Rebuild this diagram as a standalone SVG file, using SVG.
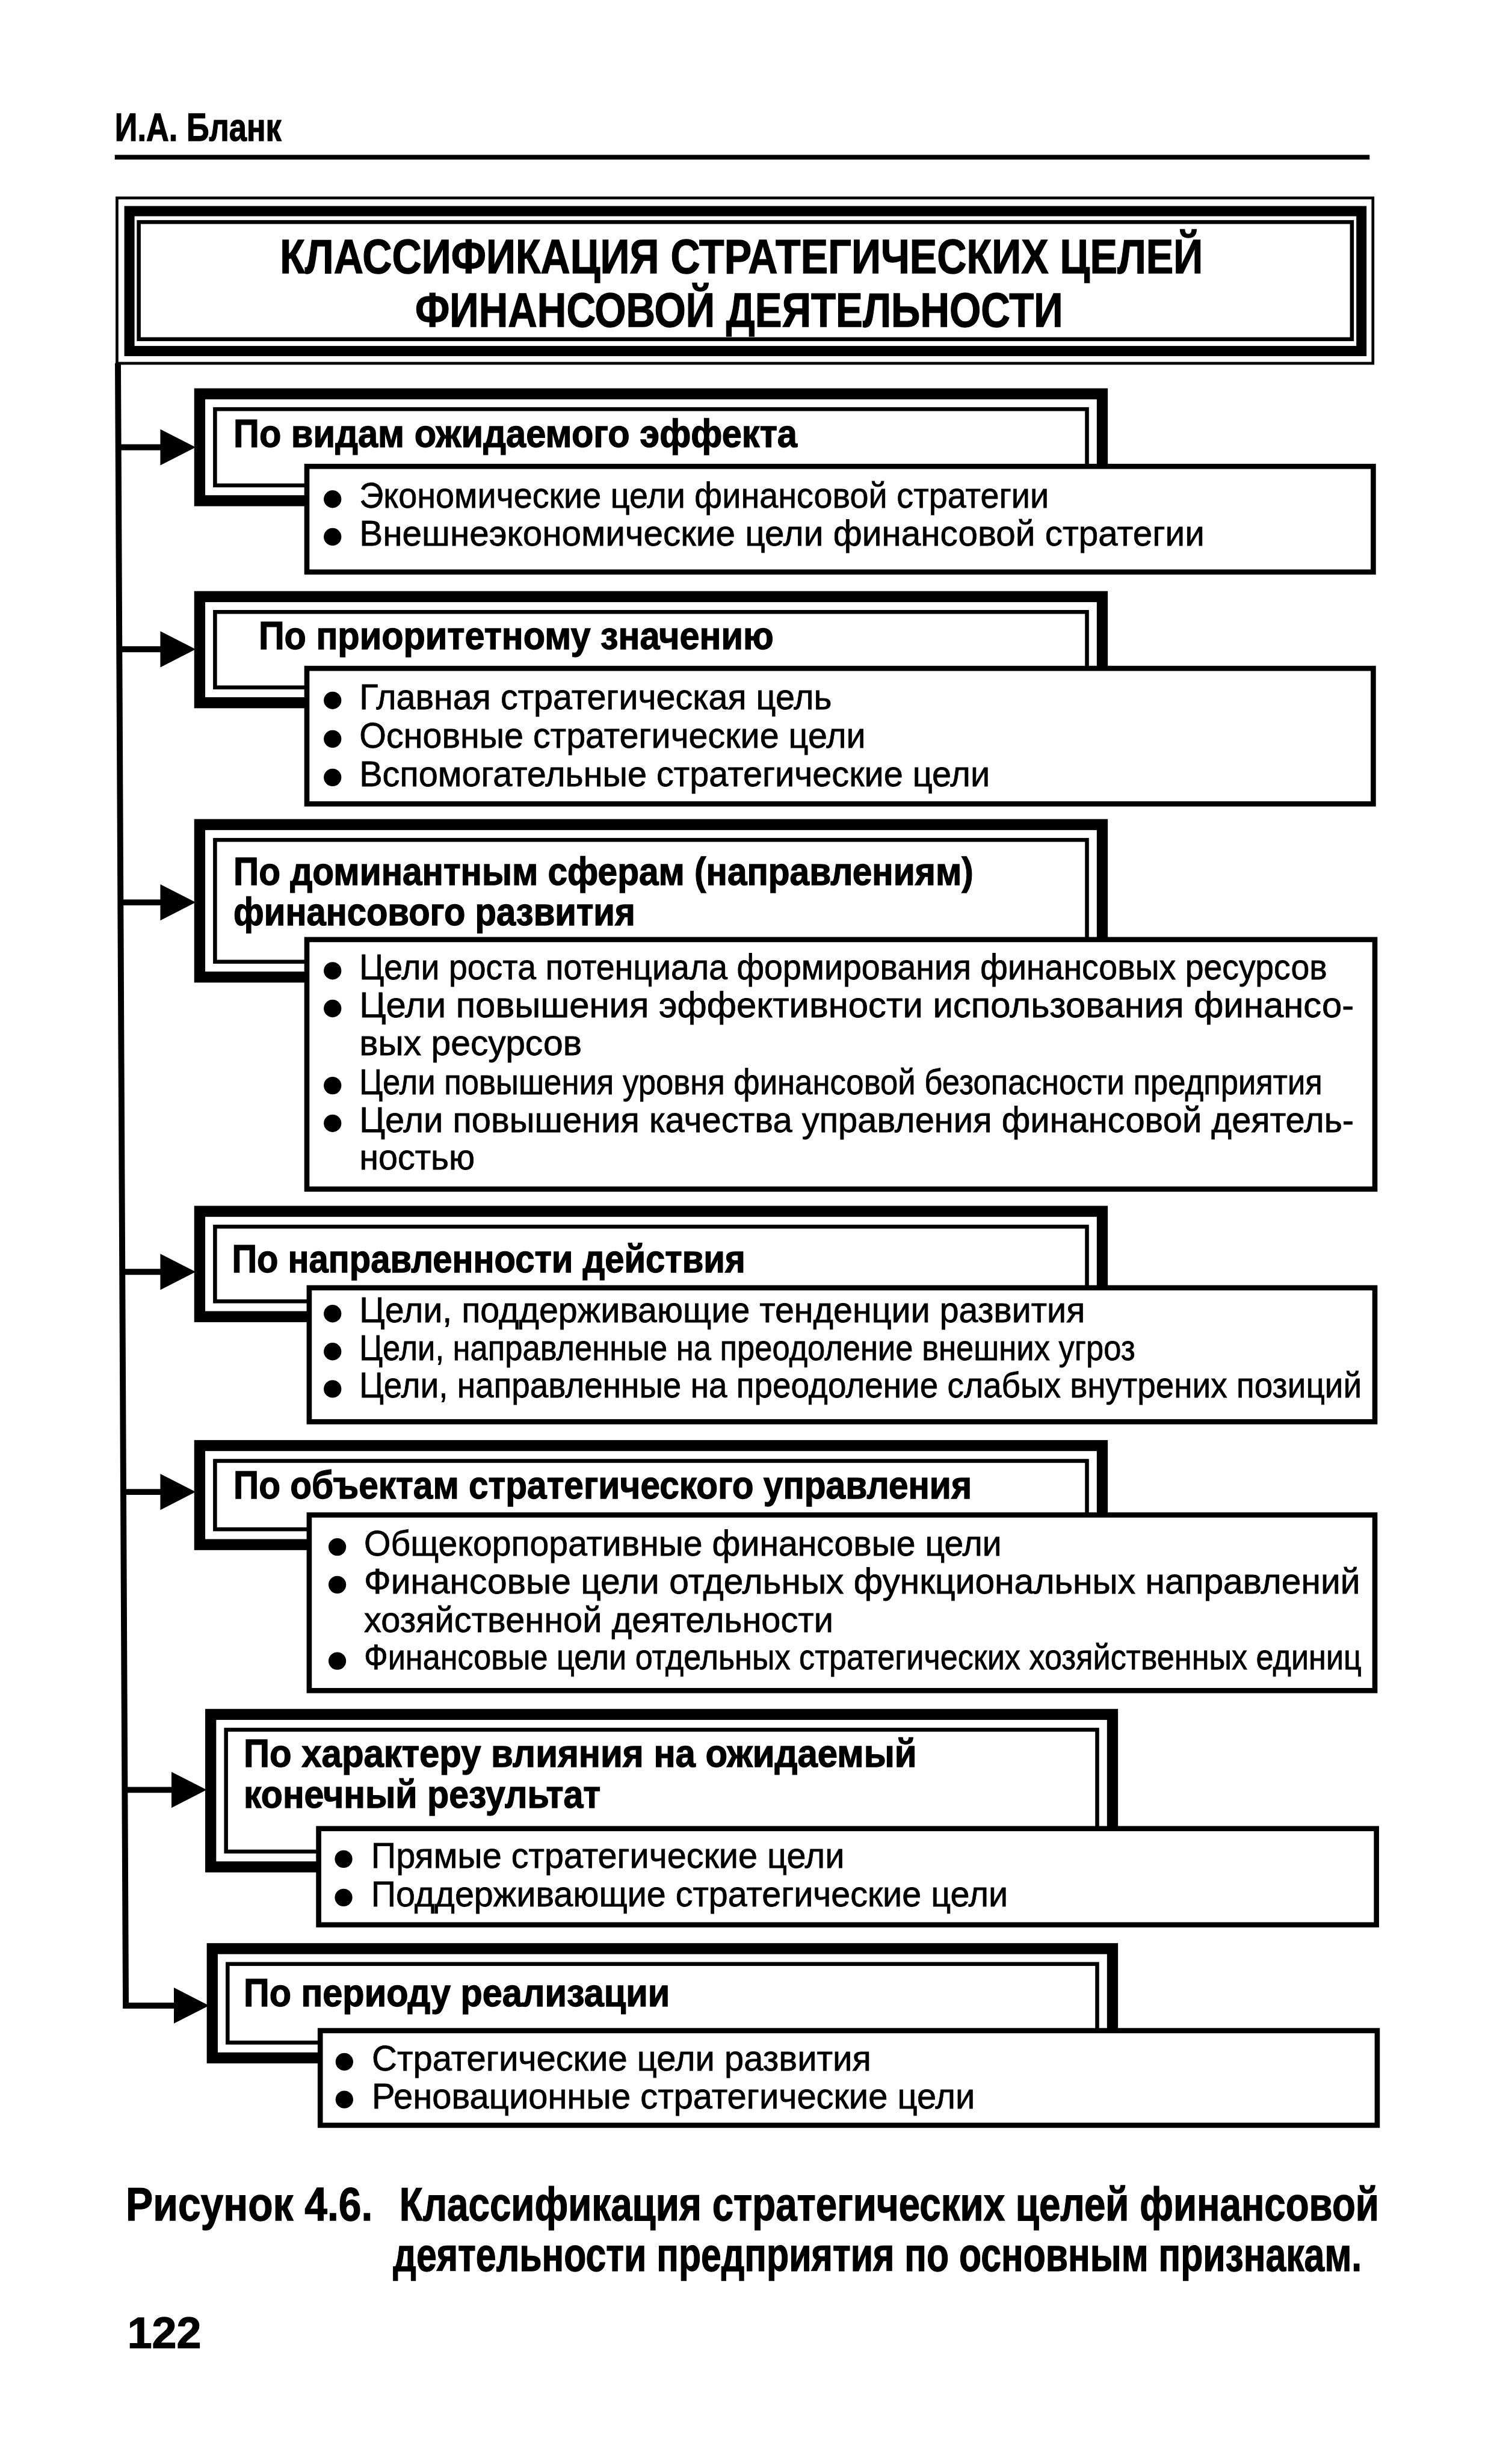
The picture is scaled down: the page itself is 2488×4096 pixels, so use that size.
<svg xmlns="http://www.w3.org/2000/svg" width="2488" height="4096" viewBox="0 0 2488 4096">
<style>
.b{font-family:"Liberation Sans Narrow","Liberation Sans",Arial,sans-serif;font-weight:bold;fill:#000;stroke:#000;stroke-width:0.5px}
.r{font-family:"Liberation Sans Narrow","Liberation Sans",Arial,sans-serif;font-weight:normal;fill:#000;stroke:#000;stroke-width:0.3px}
.hd{font-size:25px}
.tt{font-size:30.5px}
.lab{font-size:24.5px}
.it{font-size:23px}
.cap{font-size:29.5px}
.thick{fill:#fff;stroke:#000;stroke-width:7}
.thin{fill:none;stroke:#000;stroke-width:2.5}
.box{fill:#fff;stroke:#000;stroke-width:3.3}
.conn{fill:none;stroke:#000;stroke-width:3.8}
.dot{fill:#000}
</style>
<defs>
<marker id="ah" markerUnits="userSpaceOnUse" markerWidth="23" markerHeight="23" refX="1" refY="11" orient="auto" viewBox="0 0 22 22">
<path d="M0,0 L21.5,11 L0,22 Z" fill="#000"/>
</marker>
</defs>
<rect x="0" y="0" width="2488" height="4096" fill="#fff"/>
<g transform="scale(2.6134)">
<g id="header">
<text class="b hd" x="73" y="89.7" textLength="106" lengthAdjust="spacingAndGlyphs">И.А. Бланк</text>
<rect x="73" y="98.5" width="798" height="3" fill="#000"/>
</g>
<g id="title">
<rect x="74.4" y="125.9" width="798.7" height="105.2" fill="#fff" stroke="#000" stroke-width="1.8"/>
<rect x="82.3" y="134.3" width="783.5" height="89" fill="none" stroke="#000" stroke-width="6.5"/>
<rect x="88.25" y="141.25" width="771.5" height="74.5" class="thin"/>
<text class="b tt" x="178" y="173.8" textLength="587" lengthAdjust="spacingAndGlyphs">КЛАССИФИКАЦИЯ СТРАТЕГИЧЕСКИХ ЦЕЛЕЙ</text>
<text class="b tt" x="264" y="207.7" textLength="412" lengthAdjust="spacingAndGlyphs">ФИНАНСОВОЙ ДЕЯТЕЛЬНОСТИ</text>
</g>
<g id="connectors">
<path class="conn" d="M75,231 L80,1275.7 L111.5,1275.7" marker-end="url(#ah)"/>
<path class="conn" d="M75.2,284.5 H103" marker-end="url(#ah)"/>
<path class="conn" d="M75.8,413 H103" marker-end="url(#ah)"/>
<path class="conn" d="M76.6,574 H103" marker-end="url(#ah)"/>
<path class="conn" d="M77.7,809 H103" marker-end="url(#ah)"/>
<path class="conn" d="M78.4,949 H103" marker-end="url(#ah)"/>
<path class="conn" d="M79.3,1138.5 H110" marker-end="url(#ah)"/>
</g>
<g id="node1">
<rect class="thick" x="127" y="250.5" width="574" height="68"/>
<rect class="thin" x="136.75" y="260.25" width="554.5" height="48.5"/>
<text class="b lab" x="148.5" y="284.2" textLength="358.5" lengthAdjust="spacingAndGlyphs">По видам ожидаемого эффекта</text>
<rect class="box" x="195.15" y="296.65" width="678.2" height="67.2"/>
<circle class="dot" cx="211.5" cy="317.5" r="5.6"/>
<text class="r it" x="228.5" y="323" textLength="438.5" lengthAdjust="spacingAndGlyphs">Экономические цели финансовой стратегии</text>
<circle class="dot" cx="211.5" cy="341.5" r="5.6"/>
<text class="r it" x="228.5" y="347" textLength="537.5" lengthAdjust="spacingAndGlyphs">Внешнеэкономические цели финансовой стратегии</text>
</g>
<g id="node2">
<rect class="thick" x="127" y="379.5" width="574" height="67.5"/>
<rect class="thin" x="136.75" y="389.25" width="554.5" height="48"/>
<text class="b lab" x="164.5" y="413" textLength="327.5" lengthAdjust="spacingAndGlyphs">По приоритетному значению</text>
<rect class="box" x="195.15" y="425.15" width="678.2" height="86.2"/>
<circle class="dot" cx="211.5" cy="445.5" r="5.6"/>
<text class="r it" x="228.5" y="451" textLength="300.5" lengthAdjust="spacingAndGlyphs">Главная стратегическая цель</text>
<circle class="dot" cx="211.5" cy="470" r="5.6"/>
<text class="r it" x="228.5" y="475.5" textLength="322" lengthAdjust="spacingAndGlyphs">Основные стратегические цели</text>
<circle class="dot" cx="211.5" cy="494.5" r="5.6"/>
<text class="r it" x="228.5" y="500" textLength="401" lengthAdjust="spacingAndGlyphs">Вспомогательные стратегические цели</text>
</g>
<g id="node3">
<rect class="thick" x="127" y="524.5" width="574" height="97"/>
<rect class="thin" x="136.75" y="534.25" width="554.5" height="77.5"/>
<text class="b lab" x="148.5" y="563" textLength="470.5" lengthAdjust="spacingAndGlyphs">По доминантным сферам (направлениям)</text>
<text class="b lab" x="148.5" y="588.5" textLength="255.5" lengthAdjust="spacingAndGlyphs">финансового развития</text>
<rect class="box" x="195.15" y="597.65" width="679.2" height="158.7"/>
<circle class="dot" cx="211.5" cy="617.5" r="5.6"/>
<text class="r it" x="228.5" y="623" textLength="615.5" lengthAdjust="spacingAndGlyphs">Цели роста потенциала формирования финансовых ресурсов</text>
<circle class="dot" cx="211.5" cy="641.5" r="5.6"/>
<text class="r it" x="228.5" y="647" textLength="632.5" lengthAdjust="spacingAndGlyphs">Цели повышения эффективности использования финансо-</text>
<text class="r it" x="228.5" y="671" textLength="141.5" lengthAdjust="spacingAndGlyphs">вых ресурсов</text>
<circle class="dot" cx="211.5" cy="690.5" r="5.6"/>
<text class="r it" x="228.5" y="696" textLength="612.5" lengthAdjust="spacingAndGlyphs">Цели повышения уровня финансовой безопасности предприятия</text>
<circle class="dot" cx="211.5" cy="714.5" r="5.6"/>
<text class="r it" x="228.5" y="720" textLength="632.5" lengthAdjust="spacingAndGlyphs">Цели повышения качества управления финансовой деятель-</text>
<text class="r it" x="228.5" y="744" textLength="73.5" lengthAdjust="spacingAndGlyphs">ностью</text>
</g>
<g id="node4">
<rect class="thick" x="127" y="770.5" width="574" height="67"/>
<rect class="thin" x="136.75" y="780.25" width="554.5" height="47.5"/>
<text class="b lab" x="147.5" y="809.3" textLength="326.5" lengthAdjust="spacingAndGlyphs">По направленности действия</text>
<rect class="box" x="196.65" y="819.15" width="677.7" height="85.2"/>
<circle class="dot" cx="211.5" cy="835.6" r="5.6"/>
<text class="r it" x="228.5" y="841.1" textLength="461.5" lengthAdjust="spacingAndGlyphs">Цели, поддерживающие тенденции развития</text>
<circle class="dot" cx="211.5" cy="859.7" r="5.6"/>
<text class="r it" x="228.5" y="865.2" textLength="493.5" lengthAdjust="spacingAndGlyphs">Цели, направленные на преодоление внешних угроз</text>
<circle class="dot" cx="211.5" cy="883.5" r="5.6"/>
<text class="r it" x="228.5" y="889" textLength="637.5" lengthAdjust="spacingAndGlyphs">Цели, направленные на преодоление слабых внутрених позиций</text>
</g>
<g id="node5">
<rect class="thick" x="127" y="919.5" width="574" height="63"/>
<rect class="thin" x="136.75" y="929.25" width="554.5" height="43.5"/>
<text class="b lab" x="148.5" y="953" textLength="469.5" lengthAdjust="spacingAndGlyphs">По объектам стратегического управления</text>
<rect class="box" x="196.65" y="963.65" width="677.7" height="111.7"/>
<circle class="dot" cx="214.5" cy="984" r="5.6"/>
<text class="r it" x="231.5" y="989.5" textLength="405.5" lengthAdjust="spacingAndGlyphs">Общекорпоративные финансовые цели</text>
<circle class="dot" cx="214.5" cy="1008" r="5.6"/>
<text class="r it" x="231.5" y="1013.5" textLength="633.5" lengthAdjust="spacingAndGlyphs">Финансовые цели отдельных функциональных направлений</text>
<text class="r it" x="231.5" y="1038" textLength="298.5" lengthAdjust="spacingAndGlyphs">хозяйственной деятельности</text>
<circle class="dot" cx="214.5" cy="1056.5" r="5.6"/>
<text class="r it" transform="translate(231.5,1062) scale(0.8,1)" x="0" y="0" textLength="793" lengthAdjust="spacingAndGlyphs">Финансовые цели отдельных стратегических хозяйственных единиц</text>
</g>
<g id="node6">
<rect class="thick" x="134" y="1090.5" width="573.5" height="97"/>
<rect class="thin" x="143.75" y="1100.25" width="554" height="77.5"/>
<text class="b lab" x="155" y="1124" textLength="428" lengthAdjust="spacingAndGlyphs">По характеру влияния на ожидаемый</text>
<text class="b lab" x="155" y="1150" textLength="227" lengthAdjust="spacingAndGlyphs">конечный результат</text>
<rect class="box" x="202.65" y="1163.15" width="672.7" height="61.2"/>
<circle class="dot" cx="218.5" cy="1182.5" r="5.6"/>
<text class="r it" x="236" y="1188" textLength="301" lengthAdjust="spacingAndGlyphs">Прямые стратегические цели</text>
<circle class="dot" cx="218.5" cy="1207" r="5.6"/>
<text class="r it" x="236" y="1212.5" textLength="405" lengthAdjust="spacingAndGlyphs">Поддерживающие стратегические цели</text>
</g>
<g id="node7">
<rect class="thick" x="135" y="1239.5" width="572.5" height="69.5"/>
<rect class="thin" x="144.75" y="1249.25" width="553" height="50"/>
<text class="b lab" x="155" y="1276" textLength="271" lengthAdjust="spacingAndGlyphs">По периоду реализации</text>
<rect class="box" x="203.65" y="1291.65" width="672.2" height="60.2"/>
<circle class="dot" cx="219" cy="1311.5" r="5.6"/>
<text class="r it" x="236.5" y="1317" textLength="317.5" lengthAdjust="spacingAndGlyphs">Стратегические цели развития</text>
<circle class="dot" cx="219" cy="1335.5" r="5.6"/>
<text class="r it" x="236.5" y="1341" textLength="383.5" lengthAdjust="spacingAndGlyphs">Реновационные стратегические цели</text>
</g>
<g id="caption">
<text class="b cap" x="80" y="1412.3" textLength="157" lengthAdjust="spacingAndGlyphs">Рисунок 4.6.</text>
<text class="b cap" transform="translate(254,1412.3) scale(0.8,1)" x="0" y="0" textLength="778.75" lengthAdjust="spacingAndGlyphs">Классификация стратегических целей финансовой</text>
<text class="b cap" transform="translate(250,1444.5) scale(0.8,1)" x="0" y="0" textLength="770" lengthAdjust="spacingAndGlyphs">деятельности предприятия по основным признакам.</text>
<text class="b" x="81" y="1493.3" font-size="28" textLength="47" lengthAdjust="spacingAndGlyphs">122</text>
</g>
</g>
</svg>
